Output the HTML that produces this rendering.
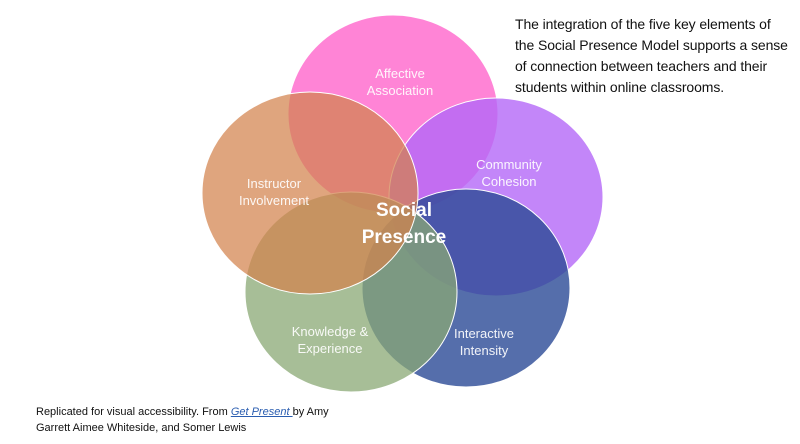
<!DOCTYPE html>
<html><head><style>
body{margin:0;width:800px;height:444px;background:#fff;overflow:hidden;font-family:"Liberation Sans",sans-serif;position:relative}
.t{position:absolute;left:515px;top:14px;font-size:14px;line-height:21px;color:#111;white-space:nowrap;letter-spacing:-0.1px}
.c{position:absolute;left:36px;top:404px;font-size:11px;line-height:16px;color:#111}
.c a{color:#2a5db0;font-style:italic;text-decoration:underline}
</style></head><body>
<svg width="800" height="444" style="position:absolute;left:0;top:0" font-family="Liberation Sans, sans-serif">
<g stroke="#fff" stroke-width="1">
<ellipse cx="393" cy="114" rx="105" ry="99" fill="#ff6fcf" fill-opacity="0.85"/>
<ellipse cx="496" cy="197" rx="107" ry="99" fill="#b468f8" fill-opacity="0.8"/>
<ellipse cx="466" cy="288" rx="104" ry="99" fill="#2a4a96" fill-opacity="0.8"/>
<ellipse cx="351" cy="292" rx="106" ry="100" fill="#8aa874" fill-opacity="0.75"/>
<ellipse cx="310" cy="193" rx="108" ry="101" fill="#d2824c" fill-opacity="0.72"/>
</g>
<g fill="#fff" font-size="13" text-anchor="middle" opacity="0.92">
<text x="400" y="78">Affective</text><text x="400" y="95">Association</text>
<text x="509" y="169">Community</text><text x="509" y="186">Cohesion</text>
<text x="274" y="188">Instructor</text><text x="274" y="205">Involvement</text>
<text x="330" y="336">Knowledge &amp;</text><text x="330" y="353">Experience</text>
<text x="484" y="338">Interactive</text><text x="484" y="355">Intensity</text>
</g>
<g fill="#fff" font-size="19" font-weight="bold" text-anchor="middle">
<text x="404" y="216">Social</text><text x="404" y="243">Presence</text>
</g>
</svg>
<div class="t">The integration of the five key elements of<br>the Social Presence Model supports a sense<br>of connection between teachers and their<br>students within online classrooms.</div>
<div class="c">Replicated for visual accessibility. From <a>Get Present </a> by Amy<br>Garrett Aimee Whiteside, and Somer Lewis</div>
</body></html>
